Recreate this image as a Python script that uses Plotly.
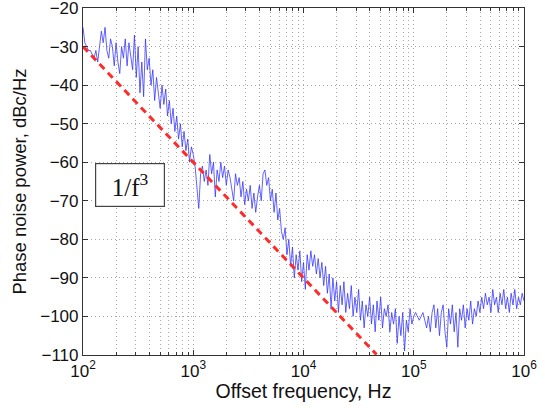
import numpy as np
import plotly.graph_objects as go

# Measured phase noise, dBc/Hz, 60 samples per decade (log-spaced) from 1e2 to 1e6 Hz
noise_dec1 = [-25, -29, -30, -31, -31, -32, -33, -31, -34, -30, -26, -29,
              -25, -31, -33, -28, -30, -35, -29, -34, -37, -30, -33, -28,
              -35, -29, -32, -36, -27, -38, -30, -42, -34, -43, -28, -36,
              -33, -40, -36, -44, -38, -42, -46, -40, -45, -41, -48, -44,
              -50, -46, -52, -48, -54, -50, -56, -52, -57, -54, -60, -56]
noise_dec2 = [-58, -61, -66, -72, -63, -61, -65, -62, -66, -58, -63, -60,
              -69, -62, -65, -60, -64, -61, -66, -62, -64, -67, -70, -63,
              -66, -64, -69, -65, -71, -67, -70, -66, -72, -68, -73, -69,
              -66, -70, -63, -62, -66, -64, -70, -67, -73, -68, -75, -72,
              -78, -80, -77, -84, -80, -87, -82, -90, -84, -88, -83, -91]
noise_dec3 = [-86, -93, -84, -88, -83, -87, -84, -89, -85, -90, -86, -92,
              -87, -94, -89, -98, -90, -96, -91, -99, -92, -97, -91, -99,
              -94, -98, -92, -100, -95, -99, -93, -101, -96, -103, -97, -100,
              -95, -102, -97, -104, -96, -101, -95, -103, -98, -100, -97, -104,
              -99, -102, -98, -107, -100, -105, -99, -109, -101, -104, -98, -102]
noise_dec4 = [-100, -99, -100, -101, -100, -99, -101, -103, -100, -104, -99, -97,
              -103, -98, -105, -99, -97, -104, -108, -98, -102, -97, -104, -99,
              -108, -98, -101, -97, -103, -98, -101, -96, -102, -98, -100, -96,
              -99, -95, -98, -94, -97, -95, -99, -93, -97, -95, -99, -94,
              -97, -93, -98, -95, -99, -94, -97, -93, -98, -95, -97, -94, -96]

noise_db = noise_dec1 + noise_dec2 + noise_dec3 + noise_dec4
freq_hz = np.logspace(2, 6, len(noise_db))

# 1/f^3 reference line endpoints
ref_freq = [1e2, 4.6e4]
ref_db = [-30, -109.9]

x_tickvals = [1e2, 1e3, 1e4, 1e5, 1e6]
x_ticktext = ["10<sup>2</sup>", "10<sup>3</sup>", "10<sup>4</sup>", "10<sup>5</sup>", "10<sup>6</sup>"]
y_tickvals = [-110, -100, -90, -80, -70, -60, -50, -40, -30, -20]

fig = go.Figure()
fig.add_trace(go.Scatter(x=freq_hz, y=noise_db, mode="lines",
                         line=dict(color="rgba(45,45,255,0.75)", width=1),
                         showlegend=False))
fig.add_trace(go.Scatter(x=ref_freq, y=ref_db, mode="lines",
                         line=dict(color="#ff2a2a", width=3, dash="7px,5px"),
                         showlegend=False))

font_family = "Liberation Sans, Arial, sans-serif"
grid_col = "#a8a8a8"
grid_dash = "1px,3px"
fig.update_layout(
    width=545, height=408,
    margin=dict(l=83, r=21, t=8, b=53),
    paper_bgcolor="white", plot_bgcolor="white",
    font=dict(family=font_family, size=17, color="#111"),
    xaxis=dict(type="log", range=[2, 6], tickvals=x_tickvals, ticktext=x_ticktext,
               automargin=False, ticklabeloverflow="allow",
               ticks="inside", ticklen=5, tickcolor="#333", mirror="allticks",
               showline=True, linecolor="#333", linewidth=1.2,
               showgrid=True, gridcolor=grid_col, griddash=grid_dash, gridwidth=1,
               minor=dict(tickvals=[f * 10 ** e for e in range(2, 6) for f in range(2, 10)],
                          ticks="inside", ticklen=3, tickcolor="#333",
                          showgrid=True, gridcolor=grid_col, griddash=grid_dash, gridwidth=1),
               zeroline=False,
               title=dict(text="Offset frequency, Hz", font=dict(size=19.5), standoff=4),
               tickfont=dict(size=17)),
    yaxis=dict(range=[-110.02, -19.98], tickvals=y_tickvals,
               automargin=False, ticklabeloverflow="allow",
               ticks="inside", ticklen=5, tickcolor="#333", mirror="allticks",
               showline=True, linecolor="#333", linewidth=1.2,
               showgrid=True, gridcolor=grid_col, griddash=grid_dash, gridwidth=1,
               zeroline=False,
               title=dict(text="Phase noise power, dBc/Hz", font=dict(size=18.5), standoff=8),
               tickfont=dict(size=17)),
)

fig.add_annotation(xref="paper", yref="paper", x=0.1066, y=0.49,
                   xanchor="center", yanchor="middle",
                   text="1/f<sup>3</sup>", showarrow=False,
                   font=dict(family="Liberation Serif, DejaVu Serif, serif", size=25, color="#111"),
                   bgcolor="white", bordercolor="#444", borderwidth=1.2,
                   borderpad=5, width=58, height=32)

fig.write_html("out.html", config={"displayModeBar": False},
               post_script="document.body.style.margin='0';document.body.style.padding='0';")
